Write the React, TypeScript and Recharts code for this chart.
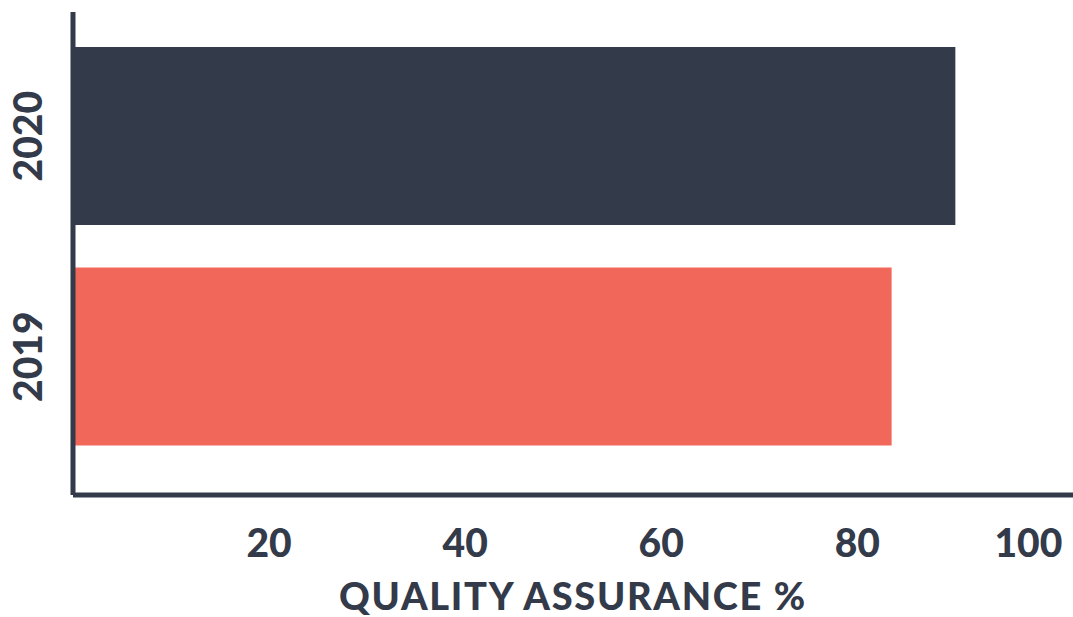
import React from 'react';
import { BarChart, Bar, XAxis, YAxis, Cell, Label } from 'recharts';

const years = ['2020', '2019'];
const quality = [90, 83.5];
const barColors = ['#333a4a', '#f1685b'];
const xTicks = [20, 40, 60, 80, 100];

const data = years.map((year, i) => ({ year, value: quality[i] }));

const INK = '#333a4a';
const FONT = 'Lato, "Open Sans", sans-serif';

function XTick({ x, y, payload }: any) {
  // the last label is pulled in so it stays inside the frame
  const shift = payload.value === 100 ? -25 : 0;
  return (
    <text x={x + shift} y={y + 29} textAnchor="middle" fill={INK} fontFamily={FONT} fontWeight={900} fontSize={39}>
      {payload.value}
    </text>
  );
}

function YTick({ x, y, payload }: any) {
  const cx = x - 46;
  return (
    <text
      x={cx}
      y={y}
      transform={`rotate(-90, ${cx}, ${y})`}
      textAnchor="middle"
      dominantBaseline="central"
      fill={INK}
      fontFamily={FONT}
      fontWeight={900}
      fontSize={39}
    >
      {payload.value}
    </text>
  );
}

export default function App() {
  return (
    <div style={{ position: 'absolute', left: 0, top: 0, background: '#fff' }}>
      <BarChart
        width={1073}
        height={617}
        data={data}
        layout="vertical"
        margin={{ top: 12, right: 0, left: 0, bottom: 0 }}
      >
        <XAxis
          type="number"
          domain={[0, 102]}
          ticks={xTicks}
          height={122}
          axisLine={{ stroke: INK, strokeWidth: 5 }}
          tickLine={false}
          tickSize={0}
          tickMargin={33}
          tick={<XTick />}
        >
          <Label
            value="QUALITY ASSURANCE %"
            position="insideBottom"
            offset={7}
            fill={INK}
            style={{ fontFamily: FONT, fontWeight: 900, fontSize: 38, letterSpacing: 1.7 }}
          />
        </XAxis>
        <YAxis
          type="category"
          dataKey="year"
          width={73}
          padding={{ top: 14, bottom: 28 }}
          axisLine={{ stroke: INK, strokeWidth: 5 }}
          tickLine={false}
          tickSize={0}
          tickMargin={0}
          tick={<YTick />}
        />
        <Bar dataKey="value" barSize={178} isAnimationActive={false}>
          {data.map((d, i) => (
            <Cell key={d.year} fill={barColors[i]} />
          ))}
        </Bar>
      </BarChart>
    </div>
  );
}
